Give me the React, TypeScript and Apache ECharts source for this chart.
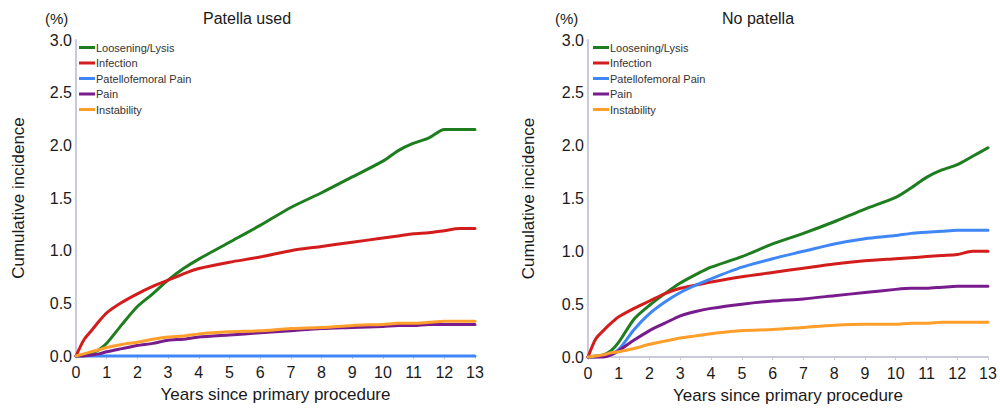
import React, { useEffect, useRef } from "react";
import * as echarts from "echarts";

// Follow-up time grid (years since primary procedure)
const YEARS = [0, 0.25, 0.5, 0.75, 1, 1.5, 2, 2.5, 3, 3.5, 4, 5, 6, 7, 8, 9, 10, 10.5, 11, 11.5, 12, 12.5, 13];

const SERIES_NAMES = ["Loosening/Lysis", "Infection", "Patellofemoral Pain", "Pain", "Instability"];
const SERIES_COLORS = ["#1e7d1e", "#d31c1c", "#3f86f7", "#781b8c", "#ff9e2a"];

// Cumulative incidence (%) — patella used
const USED_LOOSENING = [0, 0.01, 0.03, 0.06, 0.12, 0.3, 0.47, 0.59, 0.72, 0.83, 0.92, 1.08, 1.24, 1.41, 1.55, 1.7, 1.85, 1.95, 2.02, 2.07, 2.15, 2.15, 2.15];
const USED_INFECTION = [0, 0.15, 0.24, 0.33, 0.41, 0.51, 0.59, 0.66, 0.72, 0.78, 0.83, 0.89, 0.94, 1.0, 1.04, 1.08, 1.12, 1.14, 1.16, 1.17, 1.19, 1.21, 1.21];
const USED_PF_PAIN = [0, 0, 0, 0, 0, 0, 0, 0, 0, 0, 0, 0, 0, 0, 0, 0, 0, 0, 0, 0, 0, 0, 0];
const USED_PAIN = [0, 0, 0.01, 0.02, 0.04, 0.07, 0.1, 0.12, 0.15, 0.16, 0.18, 0.2, 0.22, 0.24, 0.26, 0.27, 0.28, 0.29, 0.29, 0.3, 0.3, 0.3, 0.3];
const USED_INSTABILITY = [0, 0.02, 0.04, 0.06, 0.08, 0.11, 0.13, 0.16, 0.18, 0.19, 0.21, 0.23, 0.24, 0.26, 0.27, 0.29, 0.3, 0.31, 0.31, 0.32, 0.33, 0.33, 0.33];

// Cumulative incidence (%) — no patella
const NOPAT_LOOSENING = [0, 0.01, 0.02, 0.06, 0.14, 0.36, 0.49, 0.6, 0.7, 0.78, 0.85, 0.95, 1.07, 1.17, 1.28, 1.4, 1.51, 1.6, 1.7, 1.77, 1.82, 1.9, 1.98];
const NOPAT_INFECTION = [0, 0.17, 0.25, 0.32, 0.38, 0.46, 0.53, 0.6, 0.65, 0.68, 0.71, 0.76, 0.8, 0.84, 0.88, 0.91, 0.93, 0.94, 0.95, 0.96, 0.97, 1.0, 1.0];
const NOPAT_PF_PAIN = [0, 0, 0.01, 0.03, 0.07, 0.26, 0.41, 0.52, 0.61, 0.68, 0.74, 0.85, 0.93, 1.0, 1.07, 1.12, 1.15, 1.17, 1.18, 1.19, 1.2, 1.2, 1.2];
const NOPAT_PAIN = [0, 0, 0, 0.02, 0.06, 0.16, 0.25, 0.32, 0.39, 0.43, 0.46, 0.5, 0.53, 0.55, 0.58, 0.61, 0.64, 0.65, 0.65, 0.66, 0.67, 0.67, 0.67];
const NOPAT_INSTABILITY = [0, 0.01, 0.02, 0.04, 0.05, 0.08, 0.12, 0.15, 0.18, 0.2, 0.22, 0.25, 0.26, 0.28, 0.3, 0.31, 0.31, 0.32, 0.32, 0.33, 0.33, 0.33, 0.33];

const PANEL_TITLES = ["Patella used", "No patella"];
const X_AXIS_NAME = "Years since primary procedure";
const Y_AXIS_NAME = "Cumulative incidence";
const Y_UNIT = "(%)";

const PANELS = [
  [USED_LOOSENING, USED_INFECTION, USED_PF_PAIN, USED_PAIN, USED_INSTABILITY],
  [NOPAT_LOOSENING, NOPAT_INFECTION, NOPAT_PF_PAIN, NOPAT_PAIN, NOPAT_INSTABILITY],
];

const FONT = "'Liberation Sans', Arial, Helvetica, sans-serif";
const AXIS_COLOR = "#c9cadb";

export default function App() {
  const ref = useRef<HTMLDivElement>(null);

  useEffect(() => {
    if (!ref.current) return;
    const chart = echarts.init(ref.current, undefined, { renderer: "svg" });

    const grids = [
      { left: 76, top: 40, width: 399, height: 316 },
      { left: 588, top: 40, width: 400, height: 317 },
    ];
    const legendLefts = [74, 588];

    const xAxes = grids.map((_, i) => ({
      type: "value",
      gridIndex: i,
      min: 0,
      max: 13,
      interval: 1,
      name: X_AXIS_NAME,
      nameLocation: "middle",
      nameGap: 30,
      nameTextStyle: { fontSize: 17, color: "#1a1a1a", fontFamily: FONT },
      axisLine: { show: true, lineStyle: { color: AXIS_COLOR, width: 2 } },
      axisTick: { show: true, length: 3, lineStyle: { color: AXIS_COLOR, width: 1 } },
      axisLabel: { fontSize: 16, color: "#1a1a1a", fontFamily: FONT, margin: 8 },
      splitLine: { show: false },
    }));

    const yAxes = grids.map((_, i) => ({
      type: "value",
      gridIndex: i,
      min: 0,
      max: 3,
      interval: 0.5,
      name: Y_AXIS_NAME,
      nameLocation: "middle",
      nameGap: i === 0 ? 49 : 51,
      nameTextStyle: { fontSize: 17, color: "#1a1a1a", fontFamily: FONT },
      axisLine: { show: true, lineStyle: { color: AXIS_COLOR, width: 2 } },
      axisTick: { show: true, length: 2, lineStyle: { color: "#cfe0f5", width: 1 } },
      axisLabel: {
        fontSize: 16,
        color: "#1a1a1a",
        fontFamily: FONT,
        margin: 4,
        formatter: (v: number) => v.toFixed(1),
      },
      splitLine: { show: false },
    }));

    const series: any[] = [];
    PANELS.forEach((panel, p) => {
      panel.forEach((values, s) => {
        series.push({
          type: "line",
          name: SERIES_NAMES[s],
          xAxisIndex: p,
          yAxisIndex: p,
          data: YEARS.map((t, k) => [t, values[k]]),
          showSymbol: false,
          symbol: "none",
          smooth: 0.25,
          clip: false,
          lineStyle: { color: SERIES_COLORS[s], width: 3, cap: "round" },
          itemStyle: { color: SERIES_COLORS[s] },
          z: 3 + s,
        });
      });
    });

    const legends = legendLefts.map((left) => ({
      orient: "vertical",
      left,
      top: 37,
      data: SERIES_NAMES,
      icon: "rect",
      itemWidth: 16,
      itemHeight: 3,
      itemGap: 4.5,
      selectedMode: false,
      textStyle: { fontSize: 11, color: "#333", fontFamily: FONT, lineHeight: 11, padding: [0, 0, 0, -4] },
    }));

    chart.setOption({
      animation: false,
      backgroundColor: "#ffffff",
      color: SERIES_COLORS,
      grid: grids,
      xAxis: xAxes,
      yAxis: yAxes,
      legend: legends,
      series,
      graphic: [
        { type: "text", left: 45, top: 11, style: { text: Y_UNIT, fontSize: 15, fill: "#1a1a1a", fontFamily: FONT } },
        { type: "text", left: 555, top: 11, style: { text: Y_UNIT, fontSize: 15, fill: "#1a1a1a", fontFamily: FONT } },
        { type: "text", left: 203, top: 10, style: { text: PANEL_TITLES[0], fontSize: 16, fill: "#1a1a1a", fontFamily: FONT } },
        { type: "text", left: 722, top: 10, style: { text: PANEL_TITLES[1], fontSize: 16, fill: "#1a1a1a", fontFamily: FONT } },
      ],
    });

    return () => chart.dispose();
  }, []);

  return (
    <div
      ref={ref}
      style={{ position: "fixed", left: 0, top: 0, width: 1000, height: 409, background: "#fff" }}
    />
  );
}
